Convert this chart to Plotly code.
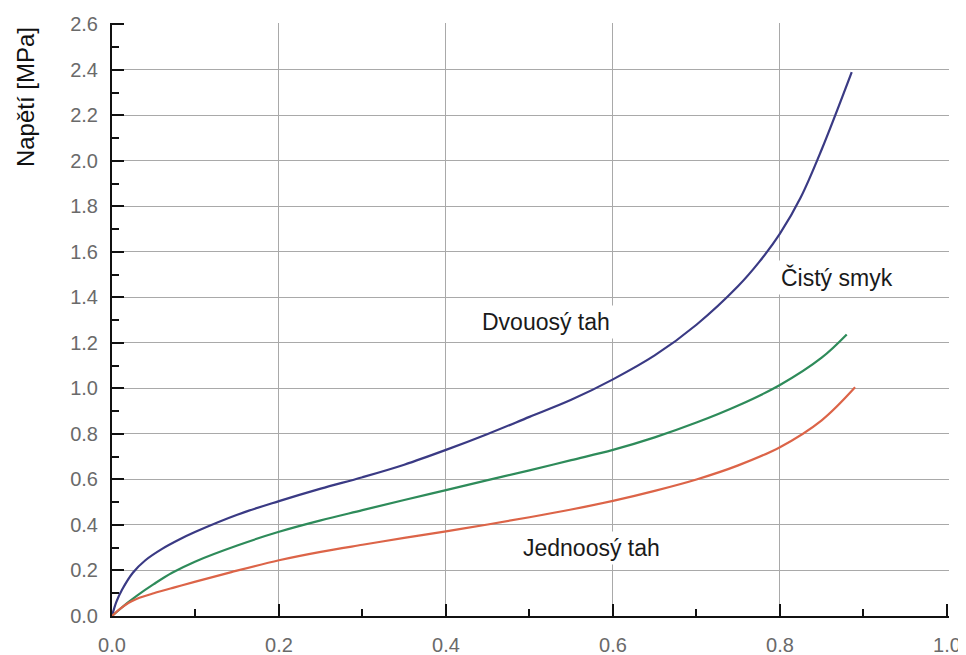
import plotly.graph_objects as go

# ---- data ----
dvouosy_x = [0, 0.005, 0.012, 0.025, 0.04, 0.06, 0.08, 0.1, 0.15, 0.2, 0.25, 0.3, 0.35,
             0.4, 0.45, 0.5, 0.55, 0.6, 0.65, 0.7, 0.75, 0.775, 0.8, 0.825, 0.85, 0.886]
dvouosy_y = [0, 0.06, 0.115, 0.19, 0.245, 0.295, 0.335, 0.37, 0.445, 0.505, 0.56, 0.61,
             0.665, 0.73, 0.8, 0.875, 0.95, 1.04, 1.145, 1.28, 1.45, 1.555, 1.68, 1.84,
             2.05, 2.39]

smyk_x = [0, 0.01, 0.02, 0.03, 0.05, 0.072, 0.1, 0.15, 0.2, 0.25, 0.3, 0.35, 0.4, 0.45,
          0.5, 0.55, 0.6, 0.65, 0.7, 0.75, 0.8, 0.85, 0.88]
smyk_y = [0, 0.032, 0.062, 0.09, 0.14, 0.19, 0.24, 0.31, 0.37, 0.42, 0.465, 0.51,
          0.553, 0.597, 0.64, 0.685, 0.73, 0.785, 0.85, 0.925, 1.015, 1.135, 1.237]

jednoosy_x = [0, 0.01, 0.02, 0.03, 0.05, 0.075, 0.1, 0.143, 0.2, 0.25, 0.3, 0.35, 0.4,
              0.45, 0.5, 0.55, 0.6, 0.65, 0.7, 0.75, 0.8, 0.85, 0.89]
jednoosy_y = [0, 0.032, 0.058, 0.076, 0.1, 0.126, 0.151, 0.193, 0.245, 0.282, 0.313,
              0.343, 0.372, 0.402, 0.434, 0.468, 0.506, 0.55, 0.6, 0.662, 0.742, 0.86, 1.005]

x_ticks = [0.0, 0.2, 0.4, 0.6, 0.8, 1.0]
x_ticklabels = ["0.0", "0.2", "0.4", "0.6", "0.8", "1.0"]
y_ticks = [round(0.2 * i, 1) for i in range(14)]
y_ticklabels = [f"{v:.1f}" for v in y_ticks]
x_grid = [0.2, 0.4, 0.6, 0.8]
y_grid = [round(0.2 * i, 1) for i in range(1, 13)]

labels = [
    ("Dvouosý tah", 0.52, 1.29),
    ("Čistý smyk", 0.868, 1.489),
    ("Jednoosý tah", 0.574, 0.299),
]

y_title = "Napětí [MPa]"

# ---- figure ----
FONT = "Arial, Liberation Sans, sans-serif"
xr = [0, 1.0025]
yr = [0, 2.606]

fig = go.Figure()
for xs, ys, col in [(dvouosy_x, dvouosy_y, "#3a3a84"),
                    (smyk_x, smyk_y, "#2e8b5a"),
                    (jednoosy_x, jednoosy_y, "#dc6448")]:
    fig.add_trace(go.Scatter(x=xs, y=ys, mode="lines",
                             line=dict(color=col, width=2.2, shape="spline", smoothing=1.0),
                             showlegend=False, hoverinfo="skip"))
# empty trace so that the grid-only overlay axes are created
fig.add_trace(go.Scatter(x=[], y=[], xaxis="x2", yaxis="y2", showlegend=False,
                         hoverinfo="skip"))

tickfont = dict(family=FONT, size=20, color="#6a6a6a")

# the page adds an 8px body margin, so the figure is 8px smaller on each axis
fig.update_layout(
    width=958, height=647,
    margin=dict(l=104, r=17, t=15, b=39, autoexpand=False),
    paper_bgcolor="white", plot_bgcolor="white",
    font=dict(family=FONT),
    xaxis=dict(range=xr, tickmode="array", tickvals=x_ticks, ticktext=x_ticklabels,
               ticks="inside", ticklen=12, tickwidth=2, tickcolor="#111",
               minor=dict(ticks="inside", ticklen=7, tickwidth=2, tickcolor="#111",
                          dtick=0.1, tick0=0, showgrid=False),
               showline=True, linewidth=2, linecolor="#111", automargin=False,
               showgrid=False, zeroline=False, tickfont=tickfont,
               ticklabelstandoff=10),
    yaxis=dict(range=yr, tickmode="array", tickvals=y_ticks, ticktext=y_ticklabels,
               ticks="inside", ticklen=12, tickwidth=2, tickcolor="#111",
               minor=dict(ticks="inside", ticklen=7, tickwidth=2, tickcolor="#111",
                          dtick=0.1, tick0=0, showgrid=False),
               showline=True, linewidth=2, linecolor="#111", automargin=False,
               showgrid=False, zeroline=False, tickfont=tickfont,
               ticklabelstandoff=8),
    xaxis2=dict(overlaying="x", anchor="y2", range=xr, tickmode="array", tickvals=x_grid,
                showgrid=True, gridcolor="#a9a9a9", gridwidth=1, automargin=False,
                showticklabels=False, ticks="", showline=False, zeroline=False),
    yaxis2=dict(overlaying="y", anchor="x2", range=yr, tickmode="array", tickvals=y_grid,
                showgrid=True, gridcolor="#a9a9a9", gridwidth=1, automargin=False,
                showticklabels=False, ticks="", showline=False, zeroline=False),
)

for text, x, y in labels:
    fig.add_annotation(x=x, y=y, xref="x", yref="y", text=text, showarrow=False,
                       font=dict(family=FONT, size=23, color="#1a1a1a"),
                       bgcolor="white", borderpad=3, xanchor="center", yanchor="middle")

fig.add_annotation(x=-0.104, y=0.875, xref="paper", yref="paper", text=y_title,
                   textangle=-90, showarrow=False,
                   font=dict(family=FONT, size=24, color="#111"),
                   xanchor="center", yanchor="middle")

fig.write_html("out.html")
